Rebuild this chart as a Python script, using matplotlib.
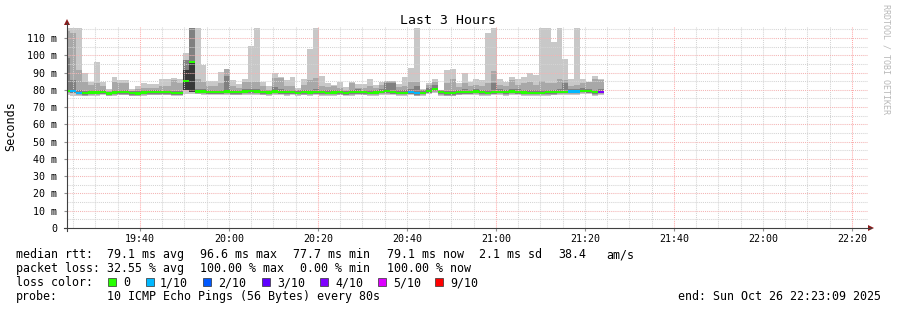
import numpy as np
import matplotlib
matplotlib.use('Agg')
import matplotlib.pyplot as plt
from matplotlib.patches import Rectangle, Polygon
from matplotlib.lines import Line2D

# ---------------- data ----------------
# time in minutes after 19:00; one smoke column per 80 s probe interval
view_start = 23.6            # left edge of the time axis
view_len = 180.0             # 3 hours
first_sample = 22.94         # start of first column (minutes after 19:00)
step_min = 80.0 / 60.0

tick_pos = [40, 60, 80, 100, 120, 140, 160, 180, 200]
tick_labels = ["19:40", "20:00", "20:20", "20:40", "21:00", "21:20", "21:40", "22:00", "22:20"]

y_ticks = [0, 10, 20, 30, 40, 50, 60, 70, 80, 90, 100, 110]
y_labels = ["0", "10 m", "20 m", "30 m", "40 m", "50 m", "60 m", "70 m", "80 m", "90 m", "100 m", "110 m"]

smoke_max = [116, 116, 116, 89.6, 84.7, 96.3, 84.7, 80.3, 87.2, 85.7,
             85.7, 80.3, 82.0, 84.2, 83.5, 83.5, 86.1, 86.1, 86.7, 86.0,
             101.1, 116, 116, 94.4, 85.0, 85.0, 90.5, 92.0, 85.7, 83.5,
             86.0, 105.4, 116, 84.7, 82.0, 89.6, 87.2, 85.7, 87.5, 81.0,
             86.0, 103.5, 116, 88.0, 84.2, 83.0, 84.7, 81.5, 84.7, 83.2,
             83.5, 86.0, 83.0, 84.5, 85.3, 85.3, 83.5, 87.2, 92.5, 116,
             80.5, 84.2, 86.0, 80.0, 91.5, 92.0, 84.2, 89.6, 84.7, 86.0,
             85.7, 113, 116, 86.0, 84.7, 87.5, 86.0, 87.5, 89.6, 88.6,
             116, 116, 107.9, 116, 97.7, 86.0, 116, 86.0, 84.7, 88.0,
             86.0]

smoke_hi = [114, 113, 91.5, 84.7, 82.8, 83.8, 82.0, 79.5, 84.7, 83.8,
            83.8, 79.5, 80.5, 81.0, 81.0, 81.0, 82.0, 82.0, 85.7, 84.0,
            97.3, 116, 86.0, 84.7, 82.0, 82.0, 84.0, 92.0, 82.0, 81.0,
            84.7, 84.7, 84.7, 82.0, 80.0, 86.7, 86.7, 82.0, 82.0, 80.0,
            83.0, 85.7, 86.7, 82.5, 81.5, 82.0, 81.0, 80.0, 83.8, 81.0,
            81.0, 82.0, 81.0, 82.5, 85.3, 85.3, 81.5, 82.0, 84.7, 84.4,
            79.5, 83.0, 84.7, 79.5, 84.0, 86.0, 81.5, 84.0, 82.0, 83.0,
            82.5, 84.0, 91.0, 83.0, 82.0, 85.7, 82.5, 84.0, 84.5, 83.0,
            85.0, 84.0, 84.0, 86.0, 85.7, 82.0, 83.0, 84.0, 84.7, 86.0,
            85.7]

smoke_dark = [98.4, 85.7, 80.0, 79.5, 79.8, 79.8, 80.0, 79.0, 79.8, 80.0,
              80.0, 79.3, 79.2, 79.8, 80.0, 80.0, 80.0, 80.0, 79.6, 79.6,
              97.3, 116, 80.3, 80.3, 80.1, 80.1, 80.1, 88.0, 80.0, 80.0,
              80.3, 80.5, 80.3, 80.0, 79.8, 81.5, 80.2, 79.8, 80.0, 79.7,
              80.0, 79.8, 80.2, 79.8, 79.7, 79.8, 80.0, 79.5, 79.8, 80.2,
              80.0, 79.7, 79.8, 80.2, 84.0, 84.0, 79.7, 79.7, 80.2, 82.0,
              79.7, 80.8, 83.0, 79.8, 79.3, 79.3, 80.0, 80.2, 80.0, 80.4,
              79.8, 79.7, 84.0, 80.2, 80.0, 80.4, 80.2, 79.8, 79.7, 79.7,
              79.7, 79.8, 80.0, 80.2, 84.0, 80.4, 80.4, 80.8, 80.6, 80.0,
              80.2]

smoke_min = [76.8, 76.5, 76.5, 76.8, 76.5, 76.5, 76.8, 76.3, 76.5, 76.8,
             76.8, 76.3, 76.3, 76.5, 76.8, 76.8, 76.8, 76.8, 76.5, 76.5,
             77.5, 77.5, 77.3, 77.0, 76.8, 76.8, 76.8, 77.0, 76.8, 76.8,
             77.0, 77.2, 77.0, 76.8, 76.5, 77.0, 76.8, 76.5, 76.8, 76.3,
             76.8, 76.5, 77.0, 76.5, 76.3, 76.5, 76.8, 76.3, 76.5, 76.8,
             76.8, 76.3, 76.5, 77.0, 77.2, 76.8, 76.3, 76.3, 76.8, 76.3,
             76.5, 77.3, 78.0, 76.5, 76.3, 76.3, 76.8, 76.8, 76.8, 77.0,
             76.5, 76.3, 76.8, 77.0, 76.5, 77.0, 76.8, 76.5, 76.3, 76.3,
             76.3, 76.5, 76.8, 77.0, 77.0, 77.0, 77.0, 77.3, 77.3, 76.5,
             76.8]

median = [79.5, 79.3, 78.3, 78.0, 78.4, 78.4, 78.7, 77.8, 78.4, 78.6,
          78.6, 78.0, 77.8, 78.4, 78.6, 78.6, 78.6, 78.6, 78.2, 78.2,
          85.3, 96.3, 79.0, 79.0, 78.8, 78.8, 78.8, 79.0, 78.6, 78.6,
          79.0, 79.2, 79.0, 78.6, 78.4, 79.0, 78.8, 78.5, 78.7, 78.3,
          78.6, 78.4, 78.8, 78.5, 78.3, 78.4, 78.6, 78.2, 78.5, 78.8,
          78.6, 78.3, 78.4, 78.9, 79.2, 78.8, 78.3, 78.3, 78.8, 78.0,
          78.3, 79.4, 80.3, 78.5, 78.0, 78.0, 78.6, 78.8, 78.7, 79.0,
          78.5, 78.3, 78.8, 78.9, 78.6, 79.0, 78.8, 78.4, 78.3, 78.3,
          78.3, 78.5, 78.6, 78.9, 78.9, 79.0, 79.0, 79.5, 79.3, 78.6,
          78.9]

# loss level per column (index into loss_names / loss_colors)
loss_idx = [0, 1, 1, 0, 0, 0, 0, 0, 0, 0,
            0, 0, 0, 0, 0, 0, 0, 0, 0, 0,
            0, 0, 0, 0, 0, 0, 0, 0, 0, 0,
            0, 0, 0, 0, 0, 0, 0, 0, 0, 0,
            0, 0, 0, 0, 0, 0, 0, 0, 0, 0,
            0, 0, 0, 0, 0, 0, 0, 0, 1, 1,
            0, 0, 0, 0, 0, 0, 0, 0, 0, 0,
            0, 0, 0, 0, 0, 0, 0, 0, 0, 0,
            0, 0, 0, 0, 0, 1, 1, 0, 0, 0,
            4]

deep_cols = [20, 21]
deep_lo = [80.0, 79.0]
deep_hi = [91.5, 96.3]

loss_names = ["0", "1/10", "2/10", "3/10", "4/10", "5/10", "9/10"]
loss_colors = ["#26ff00", "#00b8ff", "#0059ff", "#5e00ff", "#7e00ff", "#dd00ff", "#ff0000"]

# ---------------- figure ----------------
W, H = 897, 310
fig = plt.figure(figsize=(W / 100, H / 100), dpi=100)
fig.patch.set_facecolor("white")
MONO = "DejaVu Sans Mono"

L, R, T, B = 67, 868, 27.3, 228
ytop = (B - T) / (190.0 / 110.0)
ax = fig.add_axes([L / W, 1 - B / H, (R - L) / W, (B - T) / H])
ax.set_xlim(view_start, view_start + view_len)
ax.set_ylim(0, ytop)
ax.set_facecolor("white")
for s in ax.spines.values():
    s.set_visible(False)

n = len(median)
lefts = first_sample + step_min * np.arange(n)
med = np.array(median)
smin = np.array(smoke_min)
smax = np.array(smoke_max)
shi = np.array(smoke_hi)
sdk = np.array(smoke_dark)

kw = dict(width=step_min, align="edge", linewidth=0, antialiased=False)
ax.bar(lefts, smax - smin, bottom=smin, color="#c8c8c8", zorder=2, **kw)
ax.bar(lefts, shi - (med - 1.4), bottom=med - 1.4, color="#a8a8a8", zorder=2.1, **kw)
ax.bar(lefts, sdk - (med - 1.0), bottom=med - 1.0, color="#808080", zorder=2.2, **kw)
dl = lefts[deep_cols]
ax.bar(dl, np.array(deep_hi) - np.array(deep_lo), bottom=deep_lo, color="#383838", zorder=2.3, **kw)
ax.bar(lefts, 1.25, bottom=med - 0.6, color=[loss_colors[i] for i in loss_idx], zorder=4, **kw)

# grid (dotted, on top of the smoke)
dot = (0, (1, 1))
for m in np.arange(view_start - view_start % 5 + 5, view_start + view_len, 5):
    major = (round(m) % 40 == 0)
    ax.axvline(m, color="#ffa8a8" if major else "#d4d4d4", lw=0.75, ls=dot, zorder=3)
for v in np.arange(5, ytop, 5):
    major = (round(v) % 10 == 0)
    ax.axhline(v, color="#f4b4b4" if major else "#d4d4d4", lw=0.75, ls=dot, zorder=3)

ax.set_xticks(tick_pos)
ax.set_xticklabels(tick_labels, family=MONO, fontsize=7.2)
ax.set_yticks(y_ticks)
ax.set_yticklabels(y_labels, family=MONO, fontsize=7.2)
ax.tick_params(axis="x", length=2, color="#909090", pad=2)
ax.tick_params(axis="y", length=2, color="#909090", pad=5)


def fx(x):
    return x / W


def fy(y):
    return 1 - y / H


# axis lines and arrows
fig.add_artist(Line2D([fx(64), fx(871)], [fy(228), fy(228)], color="#404040", lw=0.8))
fig.add_artist(Line2D([fx(67), fx(67)], [fy(231), fy(23)], color="#404040", lw=0.8))
fig.add_artist(Polygon([[fx(64), fy(25)], [fx(70), fy(25)], [fx(67), fy(19)]], closed=True,
                       color="#8b1a1a", lw=0))
fig.add_artist(Polygon([[fx(868), fy(225)], [fx(868), fy(231)], [fx(874), fy(228)]], closed=True,
                       color="#8b1a1a", lw=0))

# titles
fig.text(fx(448), fy(24), "Last 3 Hours", family=MONO, fontsize=9.5, ha="center", va="baseline")
fig.text(fx(11), fy(126), "Seconds", family=MONO, fontsize=8.5, ha="center", va="center", rotation=90)
fig.text(fx(886), fy(59), "RRDTOOL / TOBI OETIKER", family=MONO, fontsize=6.0, ha="center",
         va="center", rotation=270, color="#b8b8b8")

# legend
fs = 8.4
def t(x, y, s, **k):
    fig.text(fx(x), fy(y), s, family=MONO, fontsize=fs, va="baseline", **k)

r1, r2, r3, r4 = 258.0, 272.0, 286.0, 300.0
t(16, r1, "median rtt:")
for x, s in [(107.3, "79.1 ms avg"), (200, "96.6 ms max"), (293.3, "77.7 ms min"),
             (386.7, "79.1 ms now"), (479.3, "2.1 ms sd"), (558.3, "38.4"), (606.7, "am/s")]:
    t(x, r1, s)
t(16, r2, "packet loss:")
for x, s in [(107.3, "32.55 % avg"), (200, "100.00 % max"), (300, "0.00 % min"), (386.7, "100.00 % now")]:
    t(x, r2, s)
t(16, r3, "loss color:")
box_x = [108, 146, 203, 262, 320, 378, 435]
lab_x = [123, 160, 218, 277, 335, 393, 450]
for bx, lx, name, col in zip(box_x, lab_x, loss_names, loss_colors):
    fig.add_artist(Rectangle((fx(bx), fy(286)), 8 / W, 8 / H, facecolor=col,
                             edgecolor="#303030", lw=0.5))
    t(lx, r3, name)
t(16, r4, "probe:")
t(107.3, r4, "10 ICMP Echo Pings (56 Bytes) every 80s")
t(881, r4, "end: Sun Oct 26 22:23:09 2025", ha="right")

fig.savefig("out.png", dpi=100, facecolor="white")
